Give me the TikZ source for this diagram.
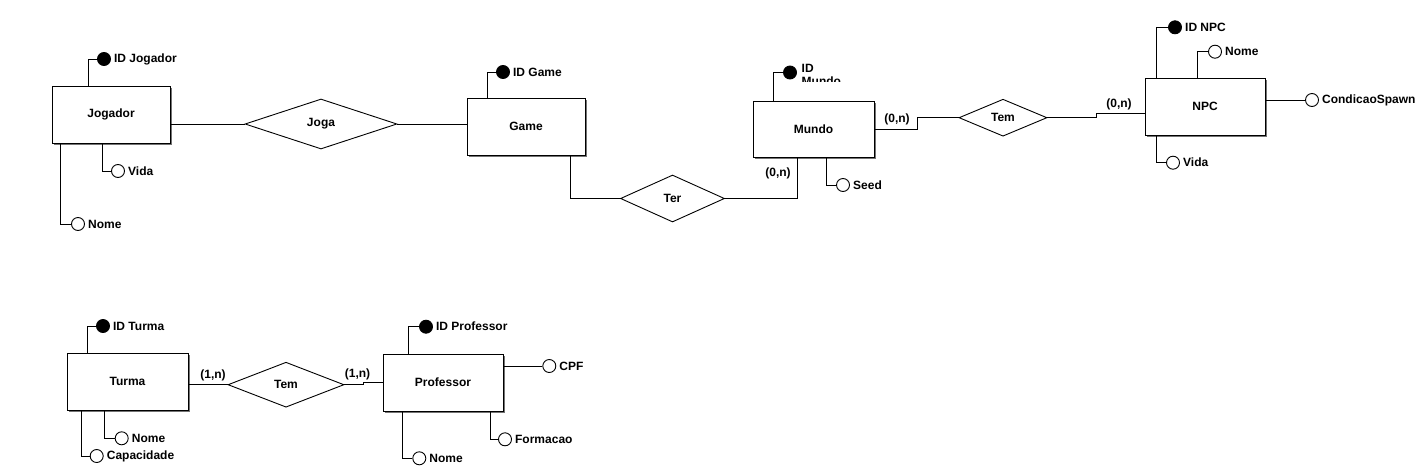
\documentclass[tikz,border=0pt]{standalone}
\usepackage{fontspec}
\setmainfont{Liberation Sans}
\usetikzlibrary{positioning, shapes.geometric, shadows}

\begin{document}
\begin{tikzpicture}[
  x=1pt, y=-1pt,
  every node/.style={font=\bfseries\fontsize{12}{13}\selectfont},
  entity/.style={draw, fill=white, line width=0.9pt, minimum width=120pt, minimum height=57pt, inner sep=0pt,
    drop shadow={shadow xshift=1.6pt, shadow yshift=-1.6pt, fill=black!55, opacity=1}},
  relation/.style={draw, diamond, aspect=2, fill=white, inner sep=0pt, line width=0.9pt},
  attrib/.style={draw, circle, fill=white, minimum size=13pt, inner sep=0pt, line width=0.9pt},
  keyattr/.style={attrib, fill=black},
  attrname/.style={right=2pt of #1, inner sep=1pt},
  card/.style={inner sep=0pt},
  link/.style={line width=0.9pt}
]
\useasboundingbox (0,0) rectangle (1424,469);

% Entities
\node[entity, minimum width=118pt] (jogador) at (111,114.5) {Jogador};
\node[entity, minimum width=118pt] (game) at (526,126.5) {Game};
\node[entity, minimum width=121pt, minimum height=56pt] (mundo) at (813.5,129) {Mundo};
\node[entity] (npc) at (1205,106.5) {NPC};
\node[entity, minimum width=121pt] (turma) at (127.5,381.5) {Turma};
\node[entity] (professor) at (443,382.5) {Professor};

% Relationships
\node[relation, minimum width=152pt, minimum height=50pt] (joga) at (321,124) {Joga};
\node[relation, minimum width=104pt, minimum height=47pt] (ter) at (672.5,198.5) {Ter};
\node[relation, minimum width=88pt, minimum height=37pt] (temNpc) at (1003,117.7) {Tem};
\node[relation, minimum width=116pt, minimum height=45pt] (temProf) at (286,384.7) {Tem};

% Attributes (top group)
\node[keyattr] (jogadorId) at (104,59) {};
\node[attrname=jogadorId] (jogadorIdTxt) {ID Jogador};
\node[attrib] (jogadorVida) at (118,171) {};
\node[attrname=jogadorVida] (jogadorVidaTxt) {Vida};
\node[attrib] (jogadorNome) at (78,224) {};
\node[attrname=jogadorNome] (jogadorNomeTxt) {Nome};

\node[keyattr] (gameId) at (503,72) {};
\node[attrname=gameId] (gameIdTxt) {ID Game};

\node[keyattr] (mundoId) at (790,72.5) {};
\begin{scope}
  \clip (795,55) rectangle (870,81);
  \node[anchor=north west, align=left, inner sep=1pt] (mundoIdTxt) at (800.5,62.7) {ID\\Mundo};
\end{scope}
\node[attrib] (mundoSeed) at (843,185) {};
\node[attrname=mundoSeed] (mundoSeedTxt) {Seed};

\node[keyattr] (npcId) at (1175,27.3) {};
\node[attrname=npcId] (npcIdTxt) {ID NPC};
\node[attrib] (npcNome) at (1215,51.7) {};
\node[attrname=npcNome] (npcNomeTxt) {Nome};
\node[attrib] (npcSpawn) at (1312,100) {};
\node[attrname=npcSpawn] (npcSpawnTxt) {CondicaoSpawn};
\node[attrib] (npcVida) at (1173,162.7) {};
\node[attrname=npcVida] (npcVidaTxt) {Vida};

% Attributes (bottom group)
\node[keyattr] (turmaId) at (103,326) {};
\node[attrname=turmaId] (turmaIdTxt) {ID Turma};
\node[attrib] (turmaNome) at (121.7,438.3) {};
\node[attrname=turmaNome] (turmaNomeTxt) {Nome};
\node[attrib] (turmaCap) at (96.7,456) {};
\node[attrname=turmaCap] (turmaCapTxt) {Capacidade};

\node[keyattr] (profId) at (426,326.7) {};
\node[attrname=profId] (profIdTxt) {ID Professor};
\node[attrib] (profCpf) at (549.3,366) {};
\node[attrname=profCpf] (profCpfTxt) {CPF};
\node[attrib] (profFormacao) at (505,439.3) {};
\node[attrname=profFormacao] (profFormacaoTxt) {Formacao};
\node[attrib] (profNome) at (419.3,458.3) {};
\node[attrname=profNome] (profNomeTxt) {Nome};

% Cardinalities
\node[card] (cardTer) at (778,173) {(0,n)};
\node[card] (cardMundo) at (897,119) {(0,n)};
\node[card] (cardNpc) at (1119,104) {(0,n)};
\node[card] (cardTurma) at (213,375) {(1,n)};
\node[card] (cardProf) at (357.5,374) {(1,n)};

% Attribute links
\draw[link] (jogadorId.west) -| ([xshift=37pt]jogador.north west);
\draw[link] ([xshift=51pt]jogador.south west) |- (jogadorVida.west);
\draw[link] ([xshift=9pt]jogador.south west) |- (jogadorNome.west);
\draw[link] (gameId.west) -| ([xshift=21pt]game.north west);
\draw[link] (mundoId.west) -| ([xshift=21pt]mundo.north west);
\draw[link] ([xshift=74pt]mundo.south west) |- (mundoSeed.west);
\draw[link] (npcId.west) -| ([xshift=12pt]npc.north west);
\draw[link] (npcNome.west) -| ([xshift=53pt]npc.north west);
\draw[link] (npcSpawn.west) -- (npcSpawn.west -| npc.east);
\draw[link] ([xshift=12pt]npc.south west) |- (npcVida.west);
\draw[link] (turmaId.west) -| ([xshift=21pt]turma.north west);
\draw[link] ([xshift=38pt]turma.south west) |- (turmaNome.west);
\draw[link] ([xshift=15pt]turma.south west) |- (turmaCap.west);
\draw[link] (profId.west) -| ([xshift=26pt]professor.north west);
\draw[link] (profCpf.west) -- (profCpf.west -| professor.east);
\draw[link] ([xshift=108pt]professor.south west) |- (profFormacao.west);
\draw[link] ([xshift=20pt]professor.south west) |- (profNome.west);

% Relationship links
\draw[link] (joga.west) -- (joga.west -| jogador.east);
\draw[link] (joga.east) -- (joga.east -| game.west);
\draw[link] ([xshift=104pt]game.south west) |- (ter.west);
\draw[link] (ter.east) -| ([xshift=45pt]mundo.south west);
\draw[link] (mundo.east) -- ++(43,0) |- (temNpc.west);
\draw[link] (temNpc.east) -- ++(49,0) |- ([yshift=-6.5pt]npc.west);
\draw[link] (temProf.west) -- (temProf.west -| turma.east);
\draw[link] (temProf.east) -- ++(19,0) |- (professor.west);
\end{tikzpicture}
\end{document}
